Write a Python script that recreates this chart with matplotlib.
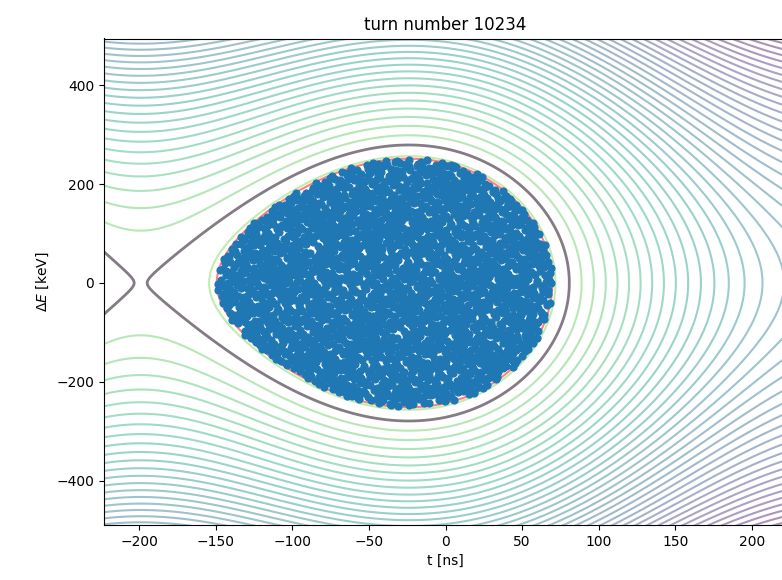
import numpy as np
import matplotlib.pyplot as plt
from matplotlib.colors import Normalize

# rf bucket parameters
phi_s = -0.4          # synchronous phase [rad]
t_s = -24.0           # synchronous particle position [ns]
omega = 0.013375      # rf angular frequency [rad/ns]
e_scale = 205.0       # energy normalisation [keV]

t_range = (-223, 223)
e_range = (-490, 495)

level_anchor = -0.013     # one contour level, read at the left edge
level_step = 0.14         # spacing of the contour levels
level_idx = np.arange(-8, 40)
sep_offset = -0.0015      # gray line sits just inside the separatrix
beam_edge = -0.324        # hamiltonian value at the edge of the beam
n_particles = 2600
turn = 10234


def hamiltonian(t, de):
    phi = omega * (t - t_s) + phi_s
    return 0.5 * (de / e_scale) ** 2 - np.cos(phi) - phi * np.sin(phi_s)


def radical_inverse(n, base):
    out = np.zeros(len(n))
    f = 1.0 / base
    n = n.copy()
    while np.any(n > 0):
        out += f * (n % base)
        n //= base
        f /= base
    return out


t = np.linspace(-240, 240, 600)
de = np.linspace(-510, 510, 600)
T, E = np.meshgrid(t, de)
H = hamiltonian(T, E)

phi_x = -np.pi - phi_s
h_sep = -np.cos(phi_x) - phi_x * np.sin(phi_s) + sep_offset

# beam particles: halton fill of the region H < beam_edge
k = np.arange(1, int(n_particles / 0.78) + 1)
pt = -152 + radical_inverse(k, 2) * (74 + 152)
pe = -258 + radical_inverse(k, 3) * 516
inside = hamiltonian(pt, pe) < beam_edge
pt, pe = pt[inside], pe[inside]

fig = plt.figure(figsize=(7.82, 5.8), dpi=100)
ax = fig.add_axes([104 / 782, 55 / 580, 683 / 782, 486.5 / 580])

levels = level_anchor + level_step * level_idx
levels = levels[(levels > H.min()) & (np.abs(levels - h_sep) > 0.01)]
ax.contour(T, E, H, levels=levels, cmap='viridis_r', alpha=0.45,
           norm=Normalize(vmin=-1.6, vmax=5.0),
           linewidths=1.5, linestyles='solid')
ax.contour(T, E, H, levels=[beam_edge], colors='red', alpha=0.5,
           linewidths=1.5, linestyles='solid')
ax.contour(T, E, H, levels=[h_sep], colors='#6e6470', alpha=0.85,
           linewidths=2, linestyles='solid')
ax.scatter(pt, pe, s=24, color='C0', zorder=3)

ax.set_xlim(*t_range)
ax.set_ylim(*e_range)
ax.set_xlabel('t [ns]')
ax.set_ylabel(r'$\Delta E$ [keV]')
ax.set_title(f'turn number {turn}')

plt.savefig('out.png', dpi=100)
